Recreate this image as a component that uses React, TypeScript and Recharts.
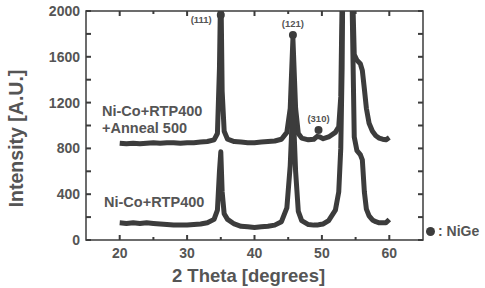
import {
  Line,
  LineChart,
  ReferenceArea,
  ReferenceDot,
  XAxis,
  YAxis,
} from "recharts";

const theta = [
  20, 21, 22, 23, 24, 25, 26, 27, 28, 29, 30, 31, 32, 33, 34,
  34.5, 34.8, 35, 35.2, 35.5,
  36, 37, 38, 39, 40, 41, 42, 43, 44,
  44.8, 45.3, 45.7, 46.1, 46.5,
  47, 48,
  48.8, 49.3, 49.7, 50.2,
  51, 52,
  52.5, 52.8, 53.0, 53.2, 53.5,
  54.2, 54.5, 54.8,
  55.2, 55.7, 56.0, 56.3, 56.6,
  57.0, 57.5, 58, 58.5, 59, 59.5, 60,
];

// Ni-Co+RTP400 +Anneal 500
const annealed = [
  845, 840, 845, 840, 845, 850, 845, 850, 850, 845, 850, 850, 855, 860, 875,
  930, 1500, 2300, 1300, 950,
  880, 860, 855, 850, 850, 855, 860, 865, 880,
  940, 1150, 1760, 1150, 930,
  890, 875,
  880, 905, 900, 885,
  900, 940,
  990, 1250, 2100, 3000, 3000,
  3000, 2300, 1620,
  1570, 1540, 1480, 1320, 1150,
  1020, 950, 910, 890, 880, 875, 895,
];

// Ni-Co+RTP400
const rtp = [
  150, 145, 150, 145, 150, 145, 140, 135, 130, 130, 130, 135, 140, 150, 180,
  260, 600, 770, 420, 230,
  180, 140, 120, 115, 110, 115, 120, 130, 160,
  280, 650, 1200, 600, 250,
  170, 135,
  130, 130, 135, 140,
  170, 260,
  420, 800, 1500, 3000, 3000,
  3000, 2000, 900,
  780, 745, 700, 420, 270,
  210, 175, 160, 150, 150, 150, 180,
];

const peakTheta = [35, 45.7, 49.5];
const peakIntensity = [1965, 1790, 960];
const peakLabels = ["(111)", "(121)", "(310)"];

const xTicks = [20, 25, 30, 35, 40, 45, 50, 55, 60];
const yTicks = [0, 200, 400, 600, 800, 1000, 1200, 1400, 1600, 1800, 2000];
const xDomain = [15, 65];
const yDomain = [0, 2000];

const data = theta.map((t, i) => ({ theta: t, annealed: annealed[i], rtp: rtp[i] }));

const INK = "#3c3c3c";
const TXT = "#555";
const FONT = "'Liberation Sans', Arial, sans-serif";

// ticks point into the plot, on all four sides
const BottomTick = ({ x, y, payload }: any) => {
  const major = payload.value % 10 === 0;
  return (
    <g>
      <rect x={x - 1} y={y - (major ? 5 : 3)} width={2} height={major ? 5 : 3} fill={INK} />
      {major && (
        <text x={x} y={y + 18} textAnchor="middle" fontSize={14} fontWeight="bold" fill={TXT} fontFamily={FONT}>
          {payload.value}
        </text>
      )}
    </g>
  );
};

const TopTick = ({ x, y, payload }: any) => {
  const major = payload.value % 10 === 0;
  return <rect x={x - 1} y={y} width={2} height={major ? 5 : 3} fill={INK} />;
};

const LeftTick = ({ x, y, payload }: any) => {
  const major = payload.value % 400 === 0;
  return (
    <g>
      <rect x={x} y={y - 1} width={5} height={2} fill={INK} />
      {major && (
        <text x={x - 6} y={y + 5} textAnchor="end" fontSize={14} fontWeight="bold" fill={TXT} fontFamily={FONT}>
          {payload.value}
        </text>
      )}
    </g>
  );
};

const RightTick = ({ x, y }: any) => <rect x={x - 5} y={y - 1} width={5} height={2} fill={INK} />;

const seriesLabel = {
  position: "absolute" as const,
  fontFamily: FONT,
  fontWeight: "bold" as const,
  fontSize: 14.5,
  color: TXT,
  lineHeight: "17px",
  whiteSpace: "nowrap" as const,
};

export default function App() {
  return (
    <div style={{ position: "fixed", left: 0, top: 0, width: 485, height: 288, background: "#fff" }}>
      <LineChart width={485} height={288} data={data} margin={{ top: 10, right: 61, bottom: 0, left: 0 }}>
        <XAxis
          dataKey="theta"
          type="number"
          domain={xDomain}
          ticks={xTicks}
          interval={0}
          tickSize={0}
          tickMargin={0}
          height={48}
          tick={<BottomTick />}
          axisLine={false}
          label={{
            value: "2 Theta [degrees]",
            position: "insideBottom",
            offset: 6,
            dx: -6,
            style: { fontSize: 18.5, fontWeight: "bold", fill: TXT, fontFamily: FONT },
          }}
        />
        <XAxis
          xAxisId="top"
          orientation="top"
          dataKey="theta"
          type="number"
          domain={xDomain}
          ticks={xTicks}
          interval={0}
          tickSize={0}
          tickMargin={0}
          height={1}
          tick={<TopTick />}
          axisLine={false}
        />
        <YAxis
          type="number"
          domain={yDomain}
          allowDataOverflow
          ticks={yTicks}
          interval={0}
          tickSize={0}
          tickMargin={0}
          width={86}
          tick={<LeftTick />}
          axisLine={false}
          label={{
            value: "Intensity [A.U.]",
            angle: -90,
            position: "center",
            dx: -27,
            dy: 13,
            style: { fontSize: 19.5, fontWeight: "bold", fill: TXT, fontFamily: FONT, textAnchor: "middle" },
          }}
        />
        <YAxis
          yAxisId="right"
          orientation="right"
          type="number"
          domain={yDomain}
          allowDataOverflow
          ticks={yTicks}
          interval={0}
          tickSize={0}
          tickMargin={0}
          width={1}
          tick={<RightTick />}
          axisLine={false}
        />
        {/* invisible series so the mirrored top/right axes get their ticks */}
        <Line
          xAxisId="top"
          yAxisId="right"
          dataKey="rtp"
          stroke="none"
          dot={false}
          activeDot={false}
          legendType="none"
          isAnimationActive={false}
        />
        {/* plot frame */}
        <ReferenceArea
          x1={xDomain[0]}
          x2={xDomain[1]}
          y1={yDomain[0]}
          y2={yDomain[1]}
          fill="none"
          fillOpacity={0}
          stroke={INK}
          strokeWidth={1.5}
          ifOverflow="visible"
        />
        <Line
          type="linear"
          dataKey="annealed"
          stroke={INK}
          strokeWidth={5}
          strokeLinejoin="round"
          dot={false}
          isAnimationActive={false}
        />
        <Line
          type="linear"
          dataKey="rtp"
          stroke={INK}
          strokeWidth={5}
          strokeLinejoin="round"
          dot={false}
          isAnimationActive={false}
        />
        {peakTheta.map((t, i) => (
          <ReferenceDot
            key={peakLabels[i]}
            x={t}
            y={peakIntensity[i]}
            r={4}
            fill={INK}
            stroke="none"
            ifOverflow="visible"
            label={{
              value: peakLabels[i],
              position: i === 0 ? "left" : "top",
              offset: i === 0 ? 5 : 4,
              dy: i === 0 ? 5 : 0,
              style: { fontSize: 9.5, fontWeight: "bold", fill: TXT, fontFamily: FONT },
            }}
          />
        ))}
      </LineChart>
      <div style={{ ...seriesLabel, left: 102, top: 103 }}>
        Ni-Co+RTP400
        <br />
        +Anneal 500
      </div>
      <div style={{ ...seriesLabel, left: 104, top: 194 }}>Ni-Co+RTP400</div>
      <div style={{ ...seriesLabel, fontSize: 14, left: 426, top: 223, display: "flex", alignItems: "center" }}>
        <span style={{ display: "inline-block", width: 9, height: 9, borderRadius: "50%", background: INK, marginRight: 3 }} />
        : NiGe
      </div>
    </div>
  );
}
